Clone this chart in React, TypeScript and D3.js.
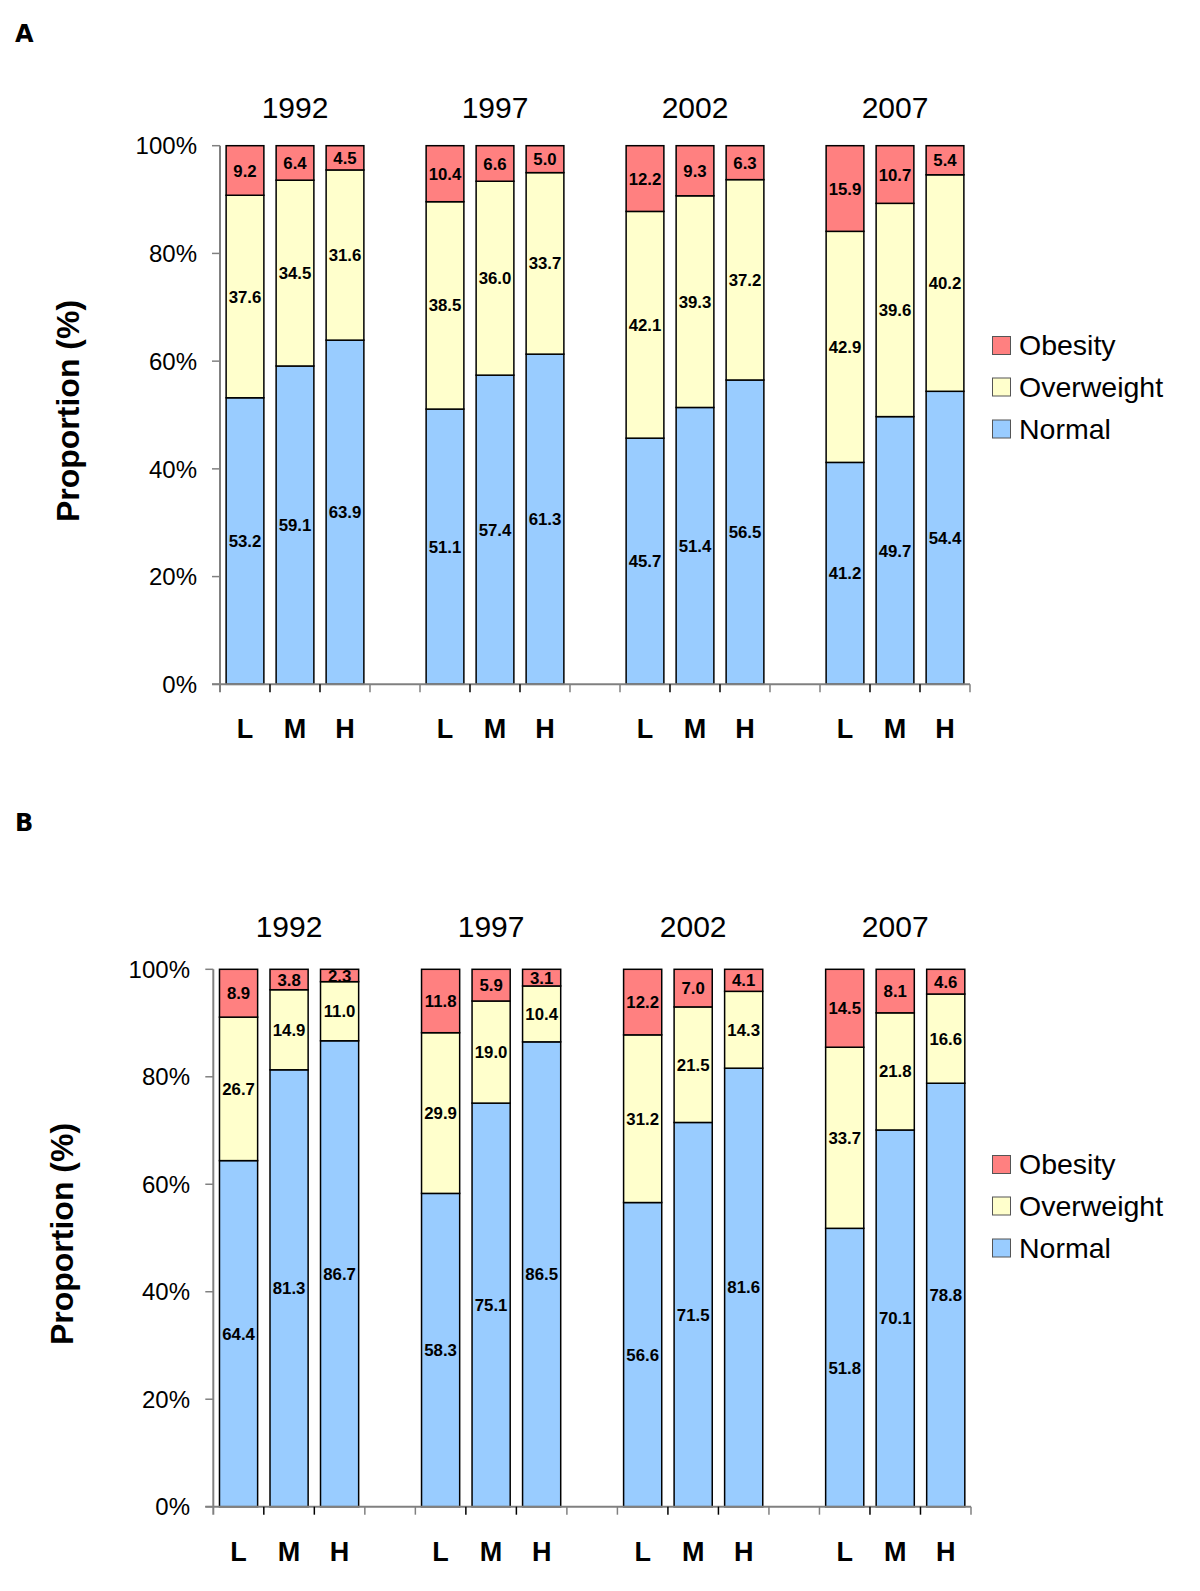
import React from "react";
import * as d3 from "d3";

const years = ["1992", "1997", "2002", "2007"];
const levels = ["L", "M", "H"];
const seriesKeys = ["normal", "overweight", "obesity"];
const legendLabels = ["Obesity", "Overweight", "Normal"];
const yTickValues = [0, 20, 40, 60, 80, 100];

// Panel A values (L, M, H for each year)
const normalA = [53.2, 59.1, 63.9, 51.1, 57.4, 61.3, 45.7, 51.4, 56.5, 41.2, 49.7, 54.4];
const overweightA = [37.6, 34.5, 31.6, 38.5, 36.0, 33.7, 42.1, 39.3, 37.2, 42.9, 39.6, 40.2];
const obesityA = [9.2, 6.4, 4.5, 10.4, 6.6, 5.0, 12.2, 9.3, 6.3, 15.9, 10.7, 5.4];

// Panel B values
const normalB = [64.4, 81.3, 86.7, 58.3, 75.1, 86.5, 56.6, 71.5, 81.6, 51.8, 70.1, 78.8];
const overweightB = [26.7, 14.9, 11.0, 29.9, 19.0, 10.4, 31.2, 21.5, 14.3, 33.7, 21.8, 16.6];
const obesityB = [8.9, 3.8, 2.3, 11.8, 5.9, 3.1, 12.2, 7.0, 4.1, 14.5, 8.1, 4.6];

const colors: Record<string, string> = {
  obesity: "#FF8080",
  overweight: "#FFFFCC",
  normal: "#99CCFF",
};
const legendKeys = ["obesity", "overweight", "normal"];

const FONT = "'Liberation Sans', Arial, sans-serif";

type PanelProps = {
  letter: string;
  letterY: number;
  normal: number[];
  overweight: number[];
  obesity: number[];
  x0: number;
  x1: number;
  yTop: number;
  yBottom: number;
  yearBaseline: number;
  titleX: number;
  tickLabelX: number;
  legendYs: number[];
};

function Panel(p: PanelProps) {
  const rows = p.normal.map((_, i) => ({
    normal: p.normal[i],
    overweight: p.overweight[i],
    obesity: p.obesity[i],
    value: i,
  }));
  const stack = d3.stack<any>().keys(seriesKeys);
  const stacked = stack(rows);
  const y = d3.scaleLinear().domain([0, 100]).range([p.yBottom, p.yTop]);
  const x = d3.scaleLinear().domain([0, 15]).range([p.x0, p.x1]);
  const step = (p.x1 - p.x0) / 15;
  const barW = step * 0.755;
  const slotOf = (i: number) => Math.floor(i / 3) * 4 + (i % 3);
  const slotCenter = (s: number) => x(s + 0.5);
  const tickLen = 8;

  return (
    <g>
      <text x={15} y={p.letterY} fontFamily="'DejaVu Sans', Verdana, sans-serif" fontWeight="bold" fontSize={24}>
        {p.letter}
      </text>
      {/* year labels */}
      {years.map((yr, g) => (
        <text
          key={yr}
          x={slotCenter(g * 4 + 1)}
          y={p.yearBaseline}
          textAnchor="middle"
          fontFamily={FONT}
          fontSize={30}
        >
          {yr}
        </text>
      ))}
      {/* bars */}
      {stacked.map((layer) =>
        layer.map((d, i) => {
          const cx = slotCenter(slotOf(i));
          const top = y(d[1]);
          const bot = y(d[0]);
          const val = (d.data as any)[layer.key];
          return (
            <g key={layer.key + i}>
              <rect
                x={cx - barW / 2}
                y={top}
                width={barW}
                height={bot - top}
                fill={colors[layer.key]}
                stroke="#000"
                strokeWidth={1.5}
              />
              <text
                x={cx}
                y={(top + bot) / 2}
                dy="0.36em"
                textAnchor="middle"
                fontFamily={FONT}
                fontWeight="bold"
                fontSize={16.8}
              >
                {val.toFixed(1)}
              </text>
            </g>
          );
        })
      )}
      {/* y axis */}
      <line x1={p.x0} x2={p.x0} y1={p.yTop} y2={p.yBottom + tickLen} stroke="#808080" strokeWidth={2} />
      {yTickValues.map((t) => (
        <g key={t}>
          <line x1={p.x0 - tickLen} x2={p.x0} y1={y(t)} y2={y(t)} stroke="#808080" strokeWidth={1.5} />
          <text
            x={p.tickLabelX}
            y={y(t)}
            dy="0.36em"
            textAnchor="end"
            fontFamily={FONT}
            fontSize={24}
          >
            {t + "%"}
          </text>
        </g>
      ))}
      {/* x axis */}
      <line x1={p.x0 - tickLen} x2={p.x1} y1={p.yBottom} y2={p.yBottom} stroke="#808080" strokeWidth={2} />
      {d3.range(1, 16).map((s) => (
        <line
          key={s}
          x1={x(s)}
          x2={x(s)}
          y1={p.yBottom}
          y2={p.yBottom + tickLen}
          stroke={s % 4 === 3 || s % 4 === 0 ? "#808080" : "#000"}
          strokeWidth={1.5}
        />
      ))}
      {p.normal.map((_, i) => (
        <text
          key={"lv" + i}
          x={slotCenter(slotOf(i))}
          y={p.yBottom + 54}
          textAnchor="middle"
          fontFamily={FONT}
          fontWeight="bold"
          fontSize={27}
        >
          {levels[i % 3]}
        </text>
      ))}
      {/* y title */}
      <text
        transform={`translate(${p.titleX},${(p.yTop + p.yBottom) / 2 - 4}) rotate(-90)`}
        textAnchor="middle"
        fontFamily={FONT}
        fontWeight="bold"
        fontSize={32}
      >
        Proportion (%)
      </text>
      {/* legend */}
      {legendKeys.map((k, i) => (
        <g key={k}>
          <rect
            x={992.5}
            y={p.legendYs[i] - 9}
            width={18}
            height={18}
            fill={colors[k]}
            stroke="#555"
            strokeWidth={1}
          />
          <text x={1019} y={p.legendYs[i] + 9.5} fontFamily={FONT} fontSize={28.5}>
            {legendLabels[i]}
          </text>
        </g>
      ))}
    </g>
  );
}

export default function App() {
  return (
    <svg
      width={1200}
      height={1591}
      style={{ position: "absolute", left: 0, top: 0, background: "#fff" }}
    >
      <rect width={1200} height={1591} fill="#fff" />
      <Panel
        letter="A"
        letterY={41.5}
        normal={normalA}
        overweight={overweightA}
        obesity={obesityA}
        x0={220}
        x1={970}
        yTop={145.7}
        yBottom={684.3}
        yearBaseline={118.3}
        titleX={79}
        tickLabelX={197}
        legendYs={[345.5, 387, 429]}
      />
      <Panel
        letter="B"
        letterY={830.5}
        normal={normalB}
        overweight={overweightB}
        obesity={obesityB}
        x0={213.3}
        x1={971}
        yTop={969.3}
        yBottom={1506.7}
        yearBaseline={937}
        titleX={73}
        tickLabelX={190}
        legendYs={[1164.5, 1206, 1248]}
      />
    </svg>
  );
}
